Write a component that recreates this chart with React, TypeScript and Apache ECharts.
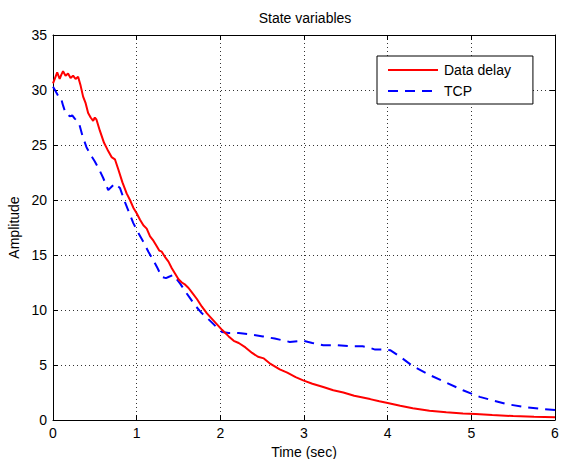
import React, { useEffect, useRef } from "react";
import * as echarts from "echarts";

const chartTitle = "State variables";
const xName = "Time (sec)";
const yName = "Amplitude";
const seriesNames = ["Data delay", "TCP"];

const delayT = [0, 0.03, 0.05, 0.08, 0.1, 0.12, 0.15, 0.18, 0.21, 0.24, 0.27, 0.3, 0.33, 0.36, 0.39, 0.42, 0.45, 0.48, 0.5, 0.52, 0.56, 0.61, 0.65, 0.7, 0.74, 0.78, 0.83, 0.88, 0.92, 0.96, 1.0, 1.04, 1.08, 1.12, 1.16, 1.2, 1.24, 1.27, 1.3, 1.34, 1.38, 1.42, 1.46, 1.5, 1.54, 1.58, 1.62, 1.66, 1.72, 1.78, 1.84, 1.9, 1.96, 2.02, 2.1, 2.16, 2.22, 2.3, 2.38, 2.45, 2.52, 2.6, 2.71, 2.8, 2.9, 2.99, 3.1, 3.23, 3.35, 3.47, 3.6, 3.79, 3.9, 4.0, 4.15, 4.3, 4.5, 4.7, 4.9, 5.05, 5.25, 5.5, 5.75, 6.0];
const delayV = [30.6, 31.2, 31.6, 31.0, 31.4, 31.7, 31.3, 31.5, 31.1, 31.3, 31.0, 31.2, 30.4, 29.4, 28.8, 27.9, 27.5, 27.2, 27.5, 27.3, 26.3, 25.2, 24.6, 23.9, 23.7, 22.8, 21.6, 20.6, 20.0, 19.3, 18.8, 18.2, 17.7, 17.4, 16.7, 16.3, 15.8, 15.4, 15.3, 14.8, 14.4, 13.8, 13.3, 12.8, 12.5, 12.3, 12.0, 11.6, 11.0, 10.3, 9.7, 9.2, 8.7, 8.2, 7.6, 7.2, 7.0, 6.6, 6.1, 5.75, 5.6, 5.1, 4.6, 4.3, 3.9, 3.6, 3.3, 3.0, 2.7, 2.5, 2.2, 1.9, 1.7, 1.55, 1.3, 1.06, 0.85, 0.7, 0.6, 0.55, 0.45, 0.36, 0.3, 0.25];

const tcpT = [0, 0.03, 0.06, 0.09, 0.12, 0.15, 0.18, 0.2, 0.23, 0.26, 0.31, 0.35, 0.4, 0.45, 0.5, 0.55, 0.6, 0.66, 0.7, 0.74, 0.8, 0.86, 0.96, 1.02, 1.08, 1.14, 1.2, 1.25, 1.3, 1.35, 1.38, 1.44, 1.52, 1.58, 1.64, 1.7, 1.78, 1.84, 1.9, 1.96, 2.02, 2.1, 2.22, 2.35, 2.51, 2.65, 2.83, 2.99, 3.1, 3.23, 3.4, 3.55, 3.7, 3.77, 3.85, 3.95, 4.03, 4.15, 4.3, 4.5, 4.7, 4.9, 5.1, 5.25, 5.42, 5.66, 5.85, 6.0];
const tcpV = [30.3, 29.9, 29.5, 29.4, 28.6, 27.9, 27.8, 27.6, 27.7, 27.4, 27.0, 25.9, 24.8, 24.1, 23.5, 22.8, 22.0, 20.9, 21.2, 21.5, 21.1, 19.8, 17.9, 17.0, 16.2, 15.3, 14.5, 13.8, 13.0, 12.9, 13.0, 13.2, 12.4, 11.7, 11.06, 10.4, 9.7, 9.3, 8.85, 8.4, 8.0, 7.9, 7.9, 7.8, 7.6, 7.4, 7.1, 7.2, 7.0, 6.8, 6.8, 6.7, 6.7, 6.6, 6.4, 6.4, 6.35, 5.75, 4.9, 4.1, 3.4, 2.7, 2.1, 1.8, 1.45, 1.15, 1.0, 0.9];

const FONT = "'Liberation Sans', Arial, sans-serif";

export default function App() {
  const ref = useRef<HTMLDivElement>(null);
  useEffect(() => {
    if (!ref.current) return;
    const chart = echarts.init(ref.current, null, { renderer: "svg" });
    const gridLine = { show: true, lineStyle: { color: "#333", width: 1, type: [1, 3] as any } };
    const axisLine = { show: true, onZero: false, lineStyle: { color: "#000", width: 1 } };
    const tick = { show: true, inside: true, length: 5, lineStyle: { color: "#000" } };
    chart.setOption({
      animation: false,
      backgroundColor: "#fff",
      title: {
        text: chartTitle,
        left: 305,
        top: 11,
        padding: 0,
        textAlign: "center",
        textStyle: { fontFamily: FONT, fontSize: 14, fontWeight: "normal", color: "#000" },
      },
      grid: { left: 53, right: 8, top: 35, bottom: 39, containLabel: false, outerBoundsMode: "none" },
      legend: {
        data: seriesNames,
        orient: "vertical",
        left: 377,
        top: 56,
        padding: [7, 22, 6, 10],
        itemWidth: 50,
        itemHeight: 14,
        itemGap: 7,
        selectedMode: false,
        backgroundColor: "#fff",
        borderColor: "#000",
        borderWidth: 1,
        borderRadius: 0,
        itemStyle: { opacity: 0, borderWidth: 0 },
        textStyle: { fontFamily: FONT, fontSize: 14, color: "#000", padding: [0, 0, 0, 1] },
      },
      xAxis: [
        {
          type: "value",
          min: 0,
          max: 6,
          interval: 1,
          position: "bottom",
          name: xName,
          nameLocation: "middle",
          nameGap: 21,
          nameTextStyle: { fontFamily: FONT, fontSize: 14, color: "#000" },
          axisLine,
          axisTick: tick,
          axisLabel: { fontFamily: FONT, fontSize: 14, color: "#000", margin: 6 },
          splitLine: gridLine,
        },
        {
          type: "value",
          min: 0,
          max: 6,
          interval: 1,
          position: "top",
          axisLine,
          axisTick: tick,
          axisLabel: { show: false },
          splitLine: { show: false },
        },
      ],
      yAxis: [
        {
          type: "value",
          min: 0,
          max: 35,
          interval: 5,
          position: "left",
          name: yName,
          nameLocation: "middle",
          nameGap: 28,
          nameTextStyle: { fontFamily: FONT, fontSize: 14, color: "#000" },
          axisLine,
          axisTick: tick,
          axisLabel: { fontFamily: FONT, fontSize: 14, color: "#000", margin: 6 },
          splitLine: gridLine,
        },
        {
          type: "value",
          min: 0,
          max: 35,
          interval: 5,
          position: "right",
          axisLine,
          axisTick: tick,
          axisLabel: { show: false },
          splitLine: { show: false },
        },
      ],
      series: [
        {
          name: seriesNames[0],
          type: "line",
          symbol: "none",
          data: delayT.map((t, i) => [t, delayV[i]]),
          lineStyle: { color: "#ff0000", width: 2 },
          itemStyle: { color: "#ff0000" },
          z: 3,
        },
        {
          name: seriesNames[1],
          type: "line",
          symbol: "none",
          data: tcpT.map((t, i) => [t, tcpV[i]]),
          lineStyle: { color: "#0000ff", width: 2, type: [10, 7] },
          itemStyle: { color: "#0000ff" },
          z: 2,
        },
      ],
    });
    return () => chart.dispose();
  }, []);
  return (
    <div
      ref={ref}
      style={{ position: "fixed", left: 0, top: 0, width: 563, height: 459, background: "#fff" }}
    />
  );
}
